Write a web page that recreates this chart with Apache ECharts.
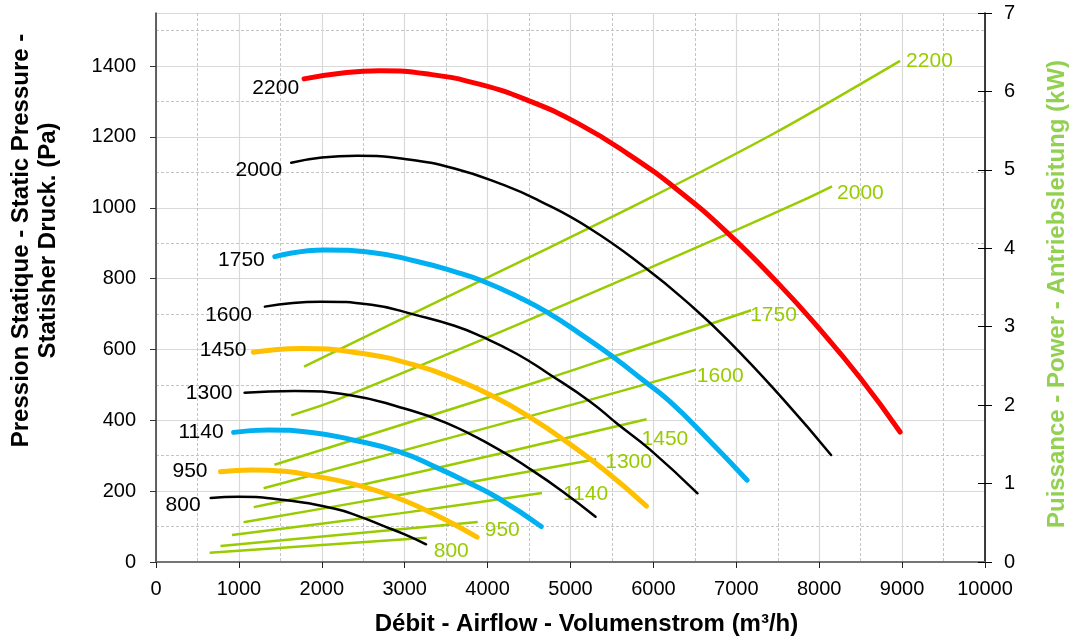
<!DOCTYPE html>
<html>
<head>
<meta charset="utf-8">
<script src="https://cdn.jsdelivr.net/npm/echarts@6/dist/echarts.min.js"></script>
<style>
html,body{margin:0;padding:0;background:#fff;}
#c{width:1077px;height:641px;}
</style>
</head>
<body>
<div id="c"></div>
<script>
// ---- data (airflow m3/h, pressure Pa) ----
const speeds = ['800', '950', '1140', '1300', '1450', '1600', '1750', '2000', '2200'];

const p800  = [[659,181],[996,184],[1552,175],[2147,151],[2450,129],[2742,102],[3000,78],[3258,50]];
const p950  = [[778,255],[1155,260],[1550,256],[1949,241],[2350,222],[2742,195],[3050,168],[3337,137],[3600,106],[3873,70]];
const p1140 = [[936,366],[1353,373],[1900,365],[2345,346],[2940,311],[3400,265],[3734,228],[4131,180],[4647,100]];
const p1300 = [[1068,478],[1671,483],[2345,471],[2940,437],[3500,393],[4131,318],[4528,260],[4900,200],[5302,128]];
const p1450 = [[1175,592],[1750,603],[2450,590],[3139,555],[3600,517],[4091,465],[4528,406],[4925,344],[5401,261],[5917,158]];
const p1600 = [[1313,721],[1988,735],[2600,726],[3139,697],[3600,667],[3933,636],[4350,588],[4726,533],[5242,452],[5560,391],[5956,318],[6532,194]];
const p1750 = [[1433,862],[2028,881],[2600,874],[3139,849],[3600,820],[3933,794],[4400,745],[4726,704],[5100,647],[5520,578],[5877,513],[6194,454],[6650,349],[7131,231]];
const p2000 = [[1631,1127],[2000,1142],[2425,1147],[3000,1138],[3600,1111],[4200,1064],[4607,1022],[5238,941],[5917,828],[6400,735],[6900,626],[7583,455],[8143,302]];
const p2200 = [[1786,1364],[2300,1382],[2700,1387],[3300,1377],[3900,1349],[4500,1302],[5100,1237],[5700,1151],[6300,1049],[6900,928],[7500,788],[8000,659],[8500,518],[8976,367]];

// ---- data (airflow m3/h, power kW) ----
const w800  = [[647,0.119],[3266,0.31]];
const w950  = [[778,0.204],[3881,0.51]];
const w1140 = [[917,0.344],[2940,0.62],[4655,0.88]];
const w1300 = [[1056,0.506],[2940,0.855],[5310,1.31]];
const w1450 = [[1179,0.70],[2940,1.09],[5917,1.82]];
const w1600 = [[1298,0.94],[5242,2.07],[6512,2.45]];
const w1750 = [[1429,1.24],[4726,2.34],[5520,2.62],[7179,3.21]];
const w2000 = [[1631,1.87],[2187,2.07],[4726,3.19],[6909,4.19],[7821,4.62],[8155,4.79]];
const w2200 = [[1786,2.49],[3139,3.19],[4726,4.0],[5917,4.62],[7464,5.47],[8976,6.39]];

// ---- axis tick settings ----
const airflowRange = [0, 10000, 1000];
const pressureRange = [0, 1550, 200];
const powerRange = [0, 7, 1];

const pressureData = [p800, p950, p1140, p1300, p1450, p1600, p1750, p2000, p2200];
const powerData = [w800, w950, w1140, w1300, w1450, w1600, w1750, w2000, w2200];

// ---- styles ----
const FONT = "'Liberation Sans', Arial, sans-serif";
const curveColors = ['#000000','#FFC000','#00B0F0','#000000','#FFC000','#000000','#00B0F0','#000000','#FF0000'];
const curveWidths = [2.5, 5, 5, 2.5, 5, 2.5, 5, 2.5, 5];
const GREEN = '#99CC00';
// label offsets [dx, dy] (style only)
const pLabelOff = [[-10,7],[-13,0],[-10,0],[-12,1],[-7,-2],[-13,9],[-10,4],[-9,7],[-5,9]];
const wLabelOff = [[7,14],[7,8],[21,1],[9,3],[-5,20],[1,6],[-1,5],[5,7],[6,0]];
const plain = v => String(v);

const series = [];
powerData.forEach((arr, i) => {
  const data = arr.map((pt, j) => {
    if (j === arr.length - 1) {
      return { value: pt, label: { show: true, position: 'right', distance: 0,
        offset: wLabelOff[i], formatter: speeds[i], color: GREEN, fontSize: 21, fontFamily: FONT } };
    }
    return pt;
  });
  series.push({
    type: 'line', name: 'W' + speeds[i], xAxisIndex: 0, yAxisIndex: 2,
    data: data, smooth: 0.3, symbol: 'circle', symbolSize: 0, showSymbol: true,
    lineStyle: { color: GREEN, width: 2.5 }, itemStyle: { color: GREEN },
    z: 2, silent: true
  });
});
pressureData.forEach((arr, i) => {
  const data = arr.map((pt, j) => {
    if (j === 0) {
      return { value: pt, label: { show: true, position: 'left', distance: 0,
        offset: pLabelOff[i], formatter: speeds[i], color: '#000', fontSize: 21, fontFamily: FONT } };
    }
    return pt;
  });
  series.push({
    type: 'line', name: 'P' + speeds[i], xAxisIndex: 0, yAxisIndex: 1,
    data: data, smooth: 0.5, symbol: 'circle', symbolSize: 0, showSymbol: true,
    lineStyle: { color: curveColors[i], width: curveWidths[i], cap: 'round' },
    itemStyle: { color: curveColors[i] },
    z: 3, silent: true
  });
});

const chart = echarts.init(document.getElementById('c'), null, { renderer: 'canvas' });
chart.setOption({
  animation: false,
  backgroundColor: '#ffffff',
  grid: { left: 153, right: 87, top: 13, bottom: 79, containLabel: false },
  xAxis: [
    {
      type: 'value', min: airflowRange[0], max: airflowRange[1], interval: airflowRange[2],
      position: 'bottom',
      axisLine: { show: true, lineStyle: { color: '#222', width: 1.5 } },
      axisTick: { show: true, inside: false, length: 6, lineStyle: { color: '#222' } },
      axisLabel: { color: '#000', fontSize: 20, fontFamily: FONT, margin: 17, formatter: plain },
      splitLine: { show: true, lineStyle: { color: '#d9d9d9', width: 1.2 } },
      minorTick: { show: false, splitNumber: 2 },
      minorSplitLine: { show: true, lineStyle: { color: '#c4c4c4', type: [3, 2], width: 1 } },
      name: 'Débit - Airflow - Volumenstrom (m³/h)',
      nameLocation: 'middle', nameGap: 50,
      nameTextStyle: { color: '#000', fontSize: 24, fontWeight: 'bold', fontFamily: FONT, padding: [0, 0, 0, 32] }
    },
    {
      type: 'value', min: airflowRange[0], max: airflowRange[1], position: 'top',
      axisLine: { show: true, lineStyle: { color: '#808080', width: 1.5 } },
      axisTick: { show: false }, axisLabel: { show: false }, splitLine: { show: false }
    }
  ],
  yAxis: [
    {
      type: 'value', min: 0, max: pressureRange[1], interval: 100, position: 'left',
      axisLine: { show: false }, axisTick: { show: false }, axisLabel: { show: false },
      splitLine: { show: true, lineStyle: { color: '#c4c4c4', type: [3, 2], width: 1 } }
    },
    {
      type: 'value', min: pressureRange[0], max: pressureRange[1], interval: pressureRange[2],
      position: 'left',
      axisLine: { show: true, lineStyle: { color: '#333', width: 1.5 } },
      axisTick: { show: true, length: 6, lineStyle: { color: '#333' } },
      axisLabel: { color: '#000', fontSize: 20, fontFamily: FONT, margin: 20, showMaxLabel: false, formatter: plain },
      splitLine: { show: true, lineStyle: { color: '#d9d9d9', width: 1.2 } },
      name: 'Pression Statique - Static Pressure -\nStatisher Druck. (Pa)',
      nameLocation: 'middle', nameRotate: 90, nameGap: 94,
      nameTextStyle: { color: '#000', fontSize: 24, fontWeight: 'bold', fontFamily: FONT,
        lineHeight: 27, padding: [0, 0, 0, 94] }
    },
    {
      type: 'value', min: powerRange[0], max: powerRange[1], interval: powerRange[2],
      position: 'right',
      axisLine: { show: true, lineStyle: { color: '#000', width: 1.5 } },
      axisTick: { show: true, length: 7, lineStyle: { color: '#000' } },
      axisLabel: { color: '#000', fontSize: 20, fontFamily: FONT, margin: 19, formatter: plain },
      splitLine: { show: false },
      name: 'Puissance - Power - Antriebsleitung (kW)',
      nameLocation: 'middle', nameRotate: 90, nameGap: 60,
      nameTextStyle: { color: '#92D050', fontSize: 24, fontWeight: 'bold', fontFamily: FONT, padding: [0, 13, 0, 0] }
    },
    {
      type: 'value', min: powerRange[0], max: powerRange[1], interval: powerRange[2],
      position: 'right',
      axisLine: { show: false },
      axisTick: { show: true, inside: true, length: 7, lineStyle: { color: '#000' } },
      axisLabel: { show: false }, splitLine: { show: false }
    }
  ],
  series: series
});
</script>
</body>
</html>
